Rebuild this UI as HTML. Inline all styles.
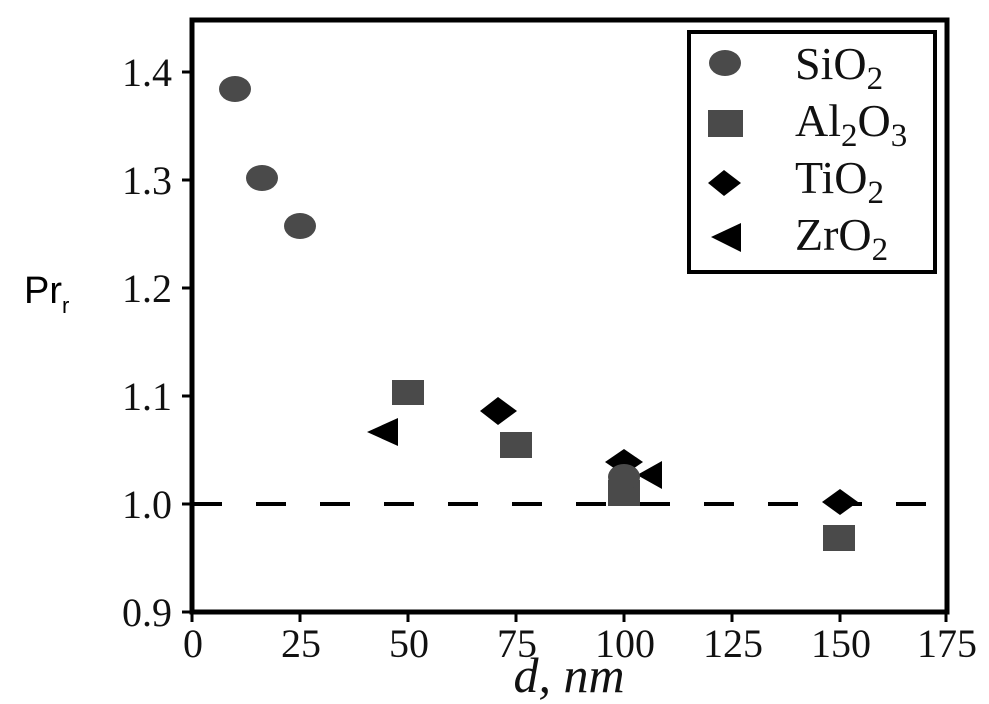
<!DOCTYPE html>
<html><head><style>body{margin:0;background:#fff}</style></head><body>
<svg width="989" height="704" xmlns="http://www.w3.org/2000/svg" style="display:block">
<rect width="989" height="704" fill="#fff"/>
<line x1="192" y1="504" x2="946" y2="504" stroke="#000" stroke-width="4" stroke-dasharray="30 34"/>
<rect x="192" y="20" width="755" height="592" fill="none" stroke="#000" stroke-width="5"/>
<g stroke="#000" stroke-width="3">
<line x1="182" y1="72" x2="192" y2="72"/><line x1="182" y1="180" x2="192" y2="180"/><line x1="182" y1="288" x2="192" y2="288"/><line x1="182" y1="396" x2="192" y2="396"/><line x1="182" y1="504" x2="192" y2="504"/><line x1="182" y1="612" x2="192" y2="612"/>
<line x1="192" y1="612" x2="192" y2="622"/><line x1="300" y1="612" x2="300" y2="622"/><line x1="408" y1="612" x2="408" y2="622"/><line x1="516" y1="612" x2="516" y2="622"/><line x1="624" y1="612" x2="624" y2="622"/><line x1="732" y1="612" x2="732" y2="622"/><line x1="840" y1="612" x2="840" y2="622"/><line x1="946" y1="612" x2="946" y2="622"/>
</g>
<g style="font-family:'Liberation Serif',serif;font-size:40px" fill="#111" text-anchor="end">
<text x="172" y="86">1.4</text><text x="172" y="194">1.3</text><text x="172" y="302">1.2</text><text x="172" y="410">1.1</text><text x="172" y="518">1.0</text><text x="172" y="626">0.9</text>
</g>
<g style="font-family:'Liberation Serif',serif;font-size:40px" fill="#111" text-anchor="middle">
<text x="193" y="657">0</text><text x="301" y="657">25</text><text x="409" y="657">50</text><text x="517" y="657">75</text><text x="625" y="657">100</text><text x="733" y="657">125</text><text x="841" y="657">150</text><text x="947" y="657">175</text>
<text x="569" y="692" style="font-style:italic;font-size:50px">d, nm</text>
</g>
<text x="24" y="303" style="font-family:'Liberation Sans',sans-serif;font-size:38px" fill="#000">Pr<tspan style="font-size:22px" dy="10">r</tspan></text>
<g fill="#4a4a4a">
<ellipse cx="235" cy="89" rx="16" ry="13"/><ellipse cx="262" cy="178" rx="16" ry="13"/><ellipse cx="300" cy="226" rx="16" ry="13"/>
<rect x="392" y="380" width="32" height="25"/><rect x="500" y="432" width="32" height="26"/><rect x="608" y="480" width="32" height="26"/><rect x="823" y="525" width="32" height="26"/>
</g>
<g fill="#000">
<polygon points="480,411 498,397 517,411 498,425"/><polygon points="605,462 624,449 643,462 624,475"/><polygon points="822,502 840,489 858,502 840,515"/>
<polygon points="367,432 398,418 398,446"/><polygon points="637,475 662,461 662,489"/>
</g>
<ellipse cx="624" cy="477" rx="16" ry="13" fill="#4a4a4a"/>
<rect x="689" y="32" width="246" height="240" fill="#fff" stroke="#000" stroke-width="4"/>
<ellipse cx="725" cy="63" rx="16" ry="13" fill="#4a4a4a"/>
<rect x="708" y="110" width="35" height="27" fill="#4a4a4a"/>
<polygon points="708,183 724,170 741,183 724,196" fill="#000"/>
<polygon points="711,237 741,223 741,252" fill="#000"/>
<g style="font-family:'Liberation Serif',serif;font-size:46px" fill="#111">
<text x="795" y="79">SiO<tspan style="font-size:33px" dy="10">2</tspan></text>
<text x="795" y="136">Al<tspan style="font-size:33px" dy="10">2</tspan><tspan dy="-10">O</tspan><tspan style="font-size:33px" dy="10">3</tspan></text>
<text x="795" y="193">TiO<tspan style="font-size:33px" dy="10">2</tspan></text>
<text x="795" y="250">ZrO<tspan style="font-size:33px" dy="10">2</tspan></text>
</g>
</svg>
</body></html>
